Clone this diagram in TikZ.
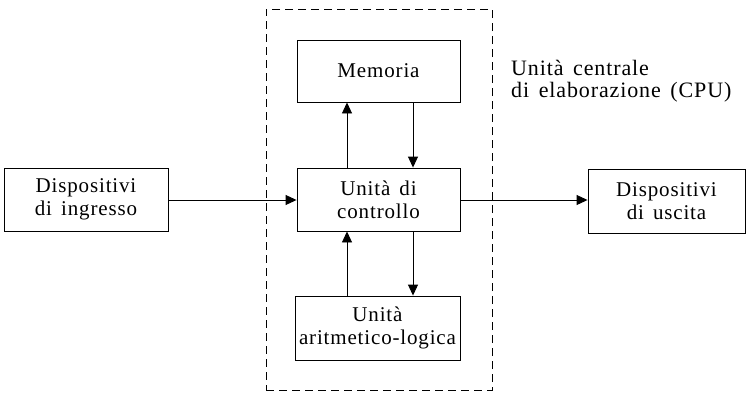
\documentclass[tikz,border=0pt]{standalone}
\usepackage{fontspec}
\setmainfont{Liberation Serif}[LetterSpace=4, WordSpace=1.5]
\usetikzlibrary{arrows.meta}
\begin{document}
\begin{tikzpicture}[x=1pt,y=-1pt,
  blk/.style={draw, line width=0.9pt, inner sep=0pt, align=center,
    font=\fontsize{21}{23}\selectfont},
  arr/.style={line width=0.9pt, -{Triangle[length=11pt,width=10pt]}},
  cpubox/.style={draw, line width=0.9pt, dash pattern=on 8pt off 5pt}]
\useasboundingbox (0,0) rectangle (747,394);
\node[cpubox, minimum width=226pt, minimum height=381pt, inner sep=0pt] (cpu) at (379,199.5) {};
\node[blk, minimum width=163pt, minimum height=62pt] (mem) at (378.5,71) {Memoria};
\node[blk, minimum width=163pt, minimum height=63pt] (ctl) at (378.5,199.5) {Unità di\\controllo};
\node[blk, minimum width=165pt, minimum height=64pt] (alu) at (377.5,328) {Unità\\aritmetico-logica};
\node[blk, minimum width=164pt, minimum height=63pt] (in) at (86,199.5) {Dispositivi\\di ingresso};
\node[blk, minimum width=157pt, minimum height=64pt] (out) at (666.5,201) {Dispositivi\\di uscita};
\node[align=left, anchor=base west, inner sep=0pt, font=\fontsize{22}{22}\selectfont] (lbl) at (511,97) {Unità centrale\\di elaborazione (CPU)};
\coordinate (upx) at (347,0);
\coordinate (dnx) at (413,0);
\coordinate (hy) at (0,200);
\draw[arr] (in.east |- hy) -- (ctl.west |- hy);
\draw[arr] (ctl.east |- hy) -- (out.west |- hy);
\draw[arr] (ctl.north -| upx) -- (mem.south -| upx);
\draw[arr] (mem.south -| dnx) -- (ctl.north -| dnx);
\draw[arr] (alu.north -| upx) -- (ctl.south -| upx);
\draw[arr] (ctl.south -| dnx) -- (alu.north -| dnx);
\end{tikzpicture}
\end{document}
